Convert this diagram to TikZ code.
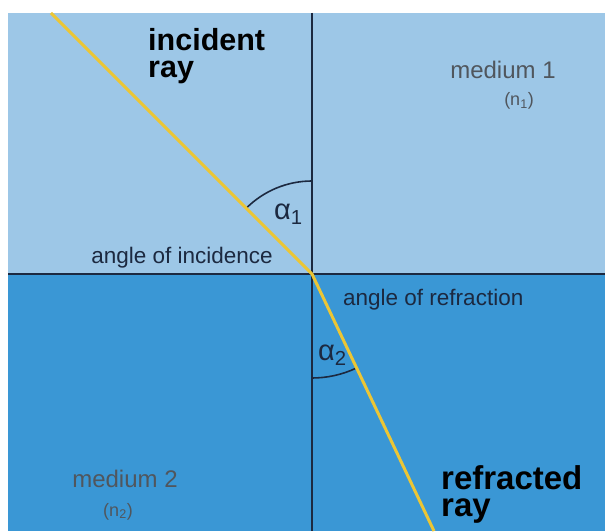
\documentclass[tikz,border=0pt]{standalone}
\usepackage{fontspec}
\setmainfont{Liberation Sans}

\definecolor{mediumone}{HTML}{9DC7E7}
\definecolor{mediumtwo}{HTML}{3A97D5}
\definecolor{raycol}{HTML}{ECC635}
\definecolor{linecol}{HTML}{1C2940}
\definecolor{labelgray}{HTML}{50565D}

\begin{document}
\begin{tikzpicture}[x=1pt,y=1pt,
    raytxt/.style={inner sep=0pt, align=left, text=black, font=\fontsize{30.5}{27}\selectfont\bfseries},
    medtxt/.style={inner sep=0pt, text=labelgray, font=\fontsize{24}{26}\selectfont},
    idxtxt/.style={inner sep=0pt, text=labelgray, font=\fontsize{18}{20}\selectfont},
    angtxt/.style={inner sep=0pt, text=linecol, font=\fontsize{22.5}{24}\selectfont},
    alphatxt/.style={inner sep=0pt, text=linecol, font=\fontsize{29}{29}\selectfont},
    angarc/.style={linecol, line width=1.6pt}]
    \useasboundingbox (0,0) rectangle (605,531);

    % the two media
    \fill[mediumone] (8,257) rectangle (605,518);
    \fill[mediumtwo] (8,0) rectangle (605,257);

    \coordinate (O) at (312,257);
    \coordinate (ntop) at (312,518);
    \coordinate (nbot) at (312,0);
    \coordinate (sl) at (8,257);
    \coordinate (sr) at (605,257);
    \coordinate (src) at (51,518);
    \coordinate (dst) at (434,0);

    % normal and surface
    \draw[linecol, line width=1.1pt] (ntop) -- (nbot);
    \draw[linecol, line width=1.6pt] (sl) -- (sr);

    % angles
    \draw[angarc] ([shift={(90:93)}]O) arc[start angle=90, end angle=135, radius=93];
    \draw[angarc] ([shift={(270:104)}]O) arc[start angle=270, end angle=295, radius=104];

    % the ray
    \draw[raycol, line width=3pt] (src) -- (O) -- (dst);

    % labels
    \node[raytxt, anchor=base west] (incident) at (148,453) {incident\\ray};
    \node[raytxt, anchor=base west, font=\fontsize{33}{27}\selectfont\bfseries] (refracted) at (441,15) {refracted\\ray};
    \node[medtxt, anchor=base] (med1) at (503,452) {medium 1};
    \node[idxtxt, anchor=base] (n1) at (519,425) {(n\textsubscript{1})};
    \node[medtxt, anchor=base] (med2) at (125,44) {medium 2};
    \node[idxtxt, anchor=base] (n2) at (118,15) {(n\textsubscript{2})};
    \node[angtxt, anchor=base east] (incang) at (273,268) {angle of incidence};
    \node[angtxt, anchor=base west] (refang) at (343,226) {angle of refraction};
    \node[alphatxt, anchor=base west] (alpha1) at (274,312) {α\textsubscript{1}};
    \node[alphatxt, anchor=base west] (alpha2) at (318,171) {α\textsubscript{2}};
\end{tikzpicture}
\end{document}
